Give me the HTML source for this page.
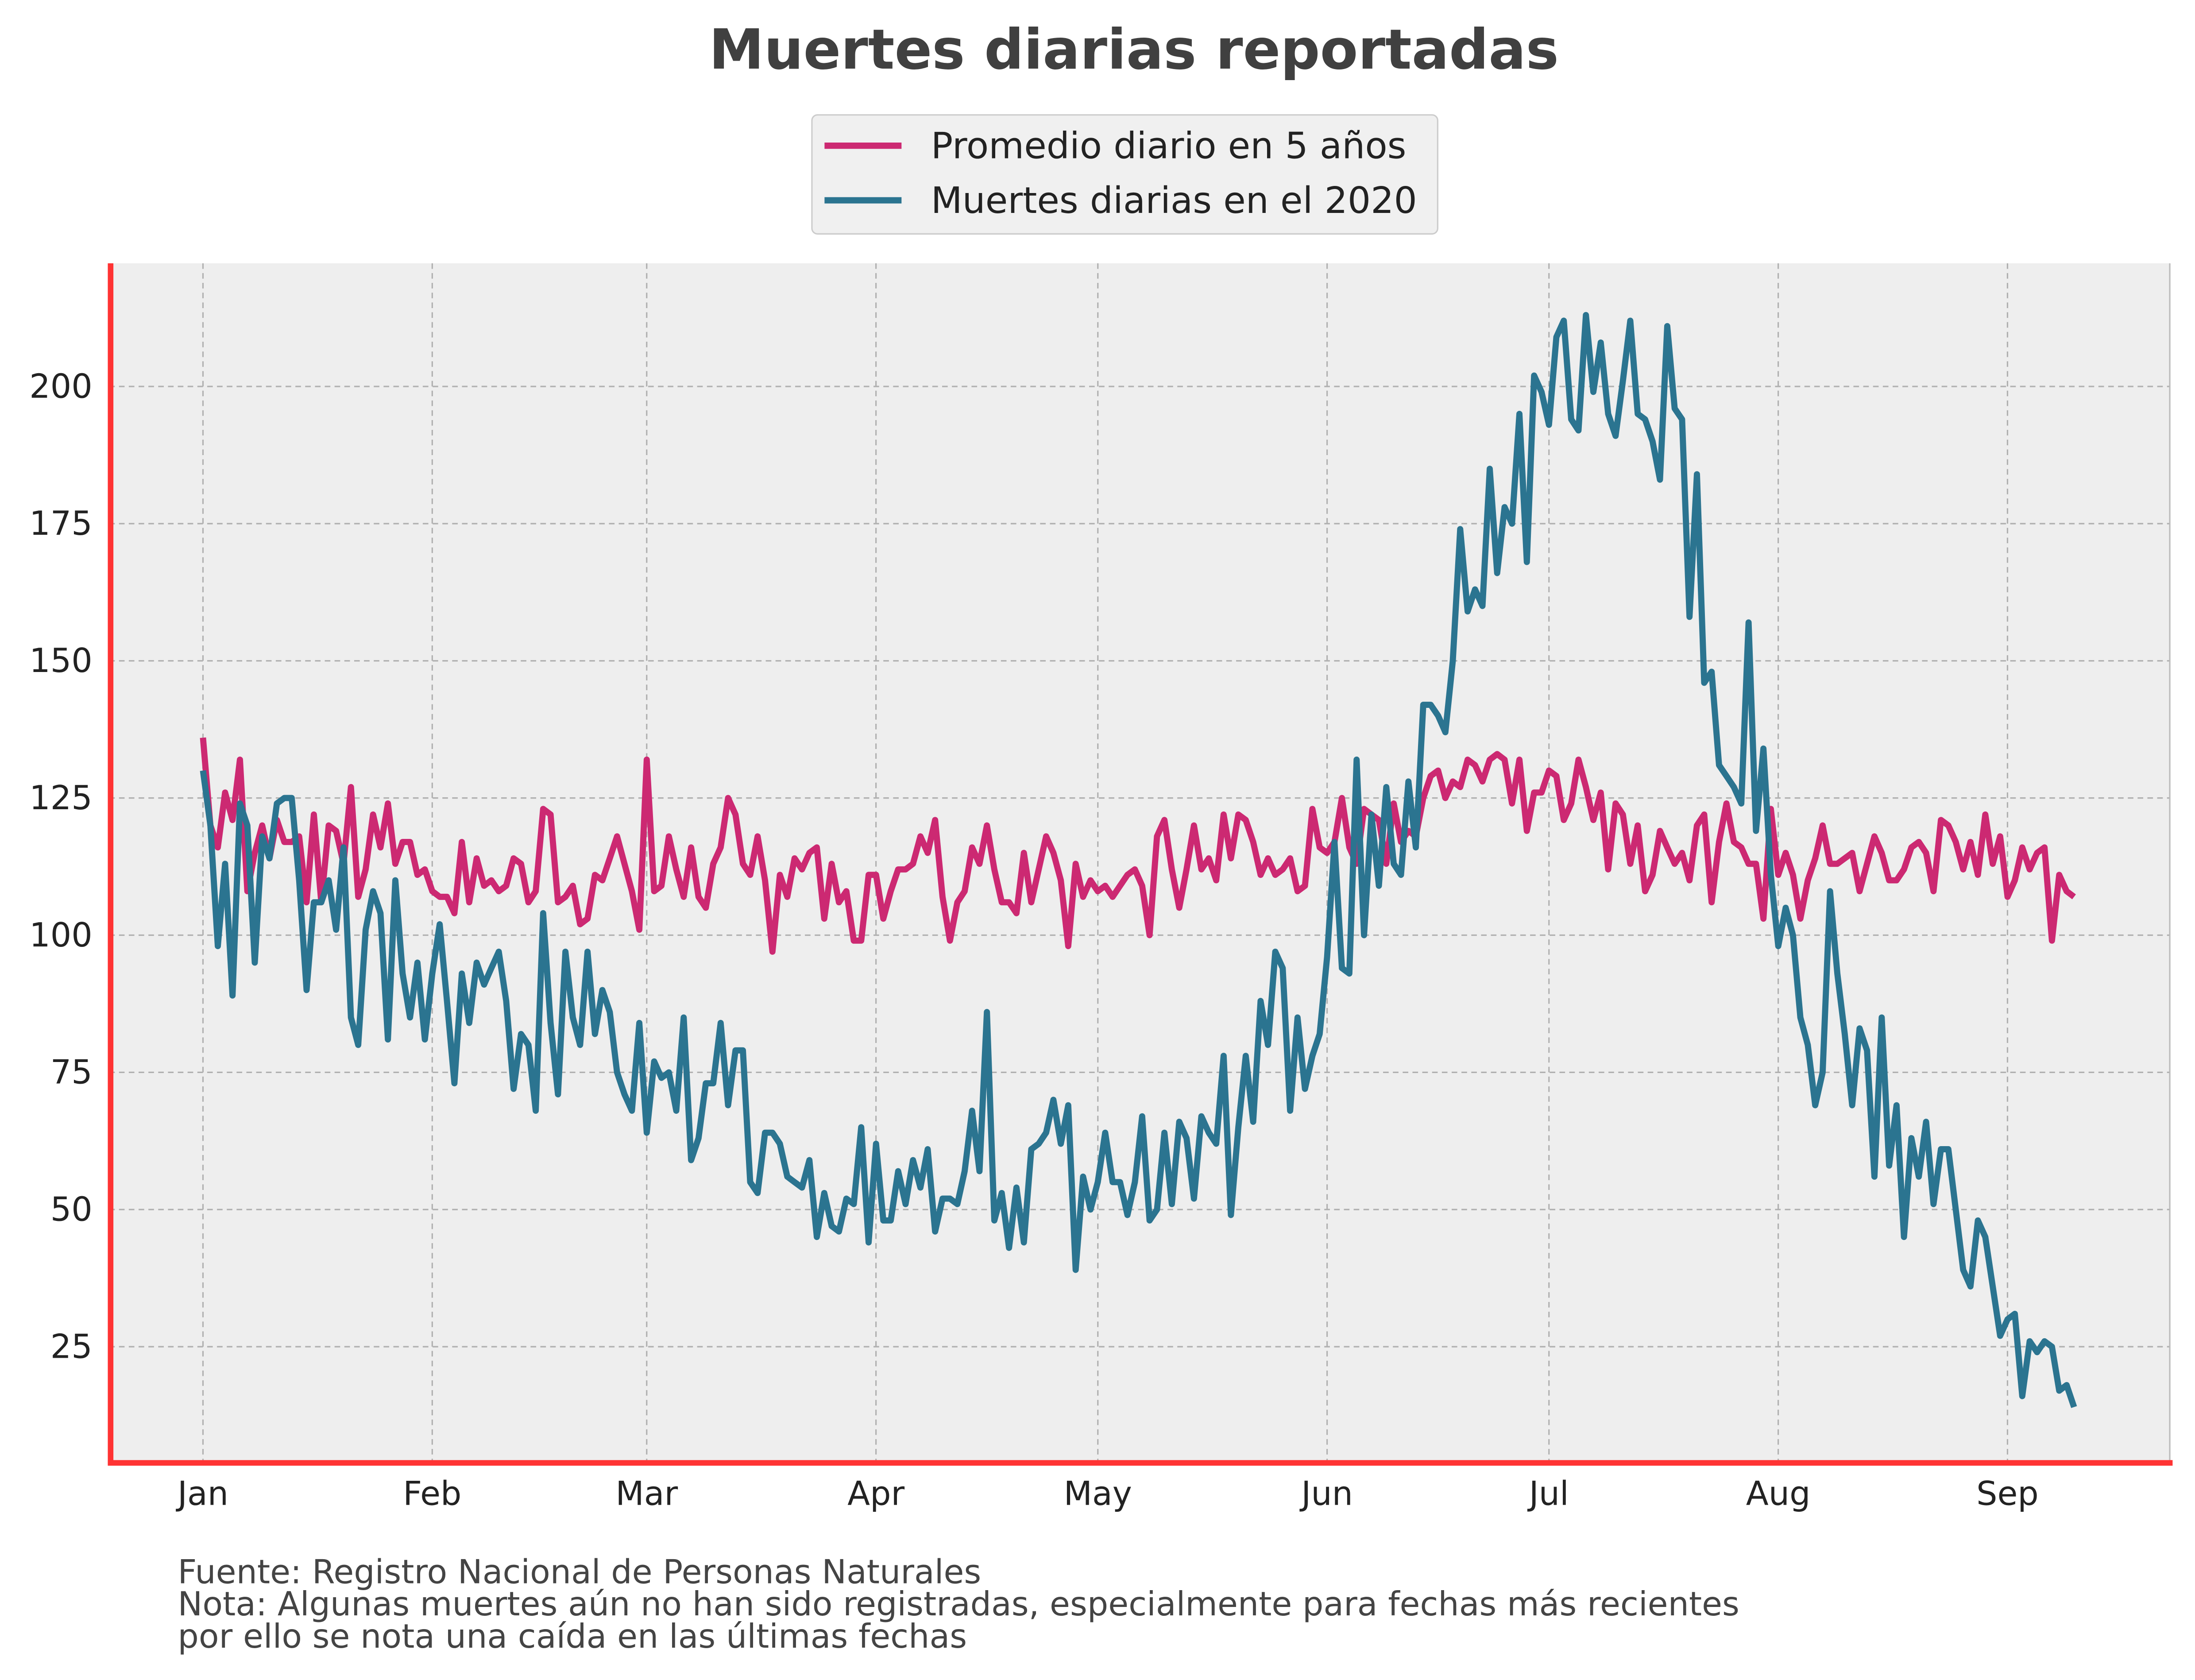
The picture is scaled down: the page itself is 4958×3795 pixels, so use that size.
<!DOCTYPE html>
<html><head><meta charset="utf-8"><style>
html,body{margin:0;padding:0;background:#fff}
svg{display:block}
text{font-family:"DejaVu Sans","Liberation Sans",sans-serif}
</style></head><body>
<svg id="chart" width="4958" height="3795" viewBox="0 0 1568 1200" xmlns="http://www.w3.org/2000/svg">
<rect width="1568" height="1200" fill="#ffffff"/>
<text x="810" y="49" text-anchor="middle" font-size="39.5" font-weight="bold" fill="#404040">Muertes diarias reportadas</text>
<g>
<rect x="580" y="82" width="447" height="85" rx="4" fill="#f0f0f0" stroke="#cccccc"/>
<g>
<line x1="589" y1="104" x2="644" y2="104" stroke="#cc2972" stroke-width="4.5"/>
<text x="665" y="113" font-size="26" fill="#222">Promedio diario en 5 años</text></g>
<g>
<line x1="589" y1="143" x2="644" y2="143" stroke="#2b7490" stroke-width="4.5"/>
<text x="665" y="152" font-size="26" fill="#222">Muertes diarias en el 2020</text></g>
</g>
<rect x="78" y="188" width="1472" height="857" fill="#eeeeee"/>
<g id="grid"></g>
<g id="lines"></g>
<line x1="1550" y1="188" x2="1550" y2="1045" stroke="#bbbbbb" stroke-width="1"/>
<line x1="79" y1="188" x2="79" y2="1046" stroke="#ff3333" stroke-width="4"/>
<line x1="77" y1="1045" x2="1552" y2="1045" stroke="#ff3333" stroke-width="4"/>
<g font-size="23.6" fill="#444">
<text x="127" y="1131">Fuente: Registro Nacional de Personas Naturales</text>
<text x="127" y="1154">Nota: Algunas muertes aún no han sido registradas, especialmente para fechas más recientes</text>
<text x="127" y="1177">por ello se nota una caída en las últimas fechas</text>
</g>
</svg>
<script>
const monthLabels=["Jan","Feb","Mar","Apr","May","Jun","Jul","Aug","Sep"];
const monthStartDays=[0,31,60,91,121,152,182,213,244];
const yTicks=[25,50,75,100,125,150,175,200];
const deaths2020=[130,120,98,113,89,124,120,95,118,114,124,125,125,110,90,106,106,110,101,116,85,80,101,108,104,81,110,93,85,95,81,
93,102,88,73,93,84,95,91,94,97,88,72,82,80,68,104,84,71,97,85,80,97,82,90,86,75,71,68,84,
64,77,74,75,68,85,59,63,73,73,84,69,79,79,55,53,64,64,62,56,55,54,59,45,53,47,46,52,51,65,44,
62,48,48,57,51,59,54,61,46,52,52,51,57,68,57,86,48,53,43,54,44,61,62,64,70,62,69,39,56,50,
55,64,55,55,49,55,67,48,50,64,51,66,63,52,67,64,62,78,49,65,78,66,88,80,97,94,68,85,72,78,82,
96,117,94,93,132,100,122,109,127,113,111,128,116,142,142,140,137,150,174,159,163,160,185,166,178,175,195,168,202,199,
193,209,212,194,192,213,199,208,195,191,201,212,195,194,190,183,211,196,194,158,184,146,148,131,129,127,124,157,119,134,111,
98,105,100,85,80,69,75,108,93,82,69,83,79,56,85,58,69,45,63,56,66,51,61,61,50,39,36,48,45,36,27,
30,31,16,26,24,26,25,17,18,14];
const average5y=[136,120,116,126,121,132,108,115,120,114,121,117,117,118,106,122,106,120,119,113,127,107,112,122,116,124,113,117,117,111,112,
108,107,107,104,117,106,114,109,110,108,109,114,113,106,108,123,122,106,107,109,102,103,111,110,114,118,113,108,101,
132,108,109,118,112,107,116,107,105,113,116,125,122,113,111,118,110,97,111,107,114,112,115,116,103,113,106,108,99,99,111,
111,103,108,112,112,113,118,115,121,107,99,106,108,116,113,120,112,106,106,104,115,106,112,118,115,110,98,113,107,110,
108,109,107,109,111,112,109,100,118,121,112,105,112,120,112,114,110,122,114,122,121,117,111,114,111,112,114,108,109,123,116,
115,117,125,116,113,123,122,121,113,124,117,119,118,125,129,130,125,128,127,132,131,128,132,133,132,124,132,119,126,126,
130,129,121,124,132,127,121,126,112,124,122,113,120,108,111,119,116,113,115,110,120,122,106,117,124,117,116,113,113,103,123,
111,115,111,103,110,114,120,113,113,114,115,108,113,118,115,110,110,112,116,117,115,108,121,120,117,112,117,111,122,113,118,
107,110,116,112,115,116,99,111,108,107];

const NS="http://www.w3.org/2000/svg";
const X0=145,PXD=5.283,Y0=1060,PXV=3.92;
function xScale(d){return X0+d*PXD;}
function yScale(v){return Y0-v*PXV;}
const grid=document.getElementById('grid');
const svg=document.getElementById('chart');
yTicks.forEach(t=>{
  const l=document.createElementNS(NS,'line');
  
  
  l.setAttribute('x1',78);l.setAttribute('x2',1550);
  l.setAttribute('y1',yScale(t));l.setAttribute('y2',yScale(t));
  l.setAttribute('stroke','#b0b0b0');l.setAttribute('stroke-dasharray','4,3');l.setAttribute('stroke-width','1');
  grid.appendChild(l);
  const tx=document.createElementNS(NS,'text');
  
  
  tx.setAttribute('x',66);tx.setAttribute('y',yScale(t)+8);
  tx.setAttribute('text-anchor','end');tx.setAttribute('font-size','23.6');tx.setAttribute('fill','#222');
  tx.textContent=t;svg.appendChild(tx);
});
monthStartDays.forEach((d,i)=>{
  const l=document.createElementNS(NS,'line');
  
  
  l.setAttribute('x1',xScale(d));l.setAttribute('x2',xScale(d));
  l.setAttribute('y1',188);l.setAttribute('y2',1045);
  l.setAttribute('stroke','#b0b0b0');l.setAttribute('stroke-dasharray','4,3');l.setAttribute('stroke-width','1');
  grid.appendChild(l);
  const tx=document.createElementNS(NS,'text');
  
  
  tx.setAttribute('x',xScale(d));tx.setAttribute('y',1075);
  tx.setAttribute('text-anchor','middle');tx.setAttribute('font-size','23.6');tx.setAttribute('fill','#222');
  tx.textContent=monthLabels[i];svg.appendChild(tx);
});
function drawLine(vals,color,name){
  const p=document.createElementNS(NS,'polyline');
  
  
  p.setAttribute('points',vals.map((v,i)=>xScale(i).toFixed(1)+','+yScale(v).toFixed(1)).join(' '));
  p.setAttribute('fill','none');p.setAttribute('stroke',color);p.setAttribute('stroke-width','4.4');
  p.setAttribute('stroke-linejoin','round');
  document.getElementById('lines').appendChild(p);
}
drawLine(average5y,'#cc2972','average-5-years-line');
drawLine(deaths2020,'#2b7490','deaths-2020-line');
</script>
</body></html>
